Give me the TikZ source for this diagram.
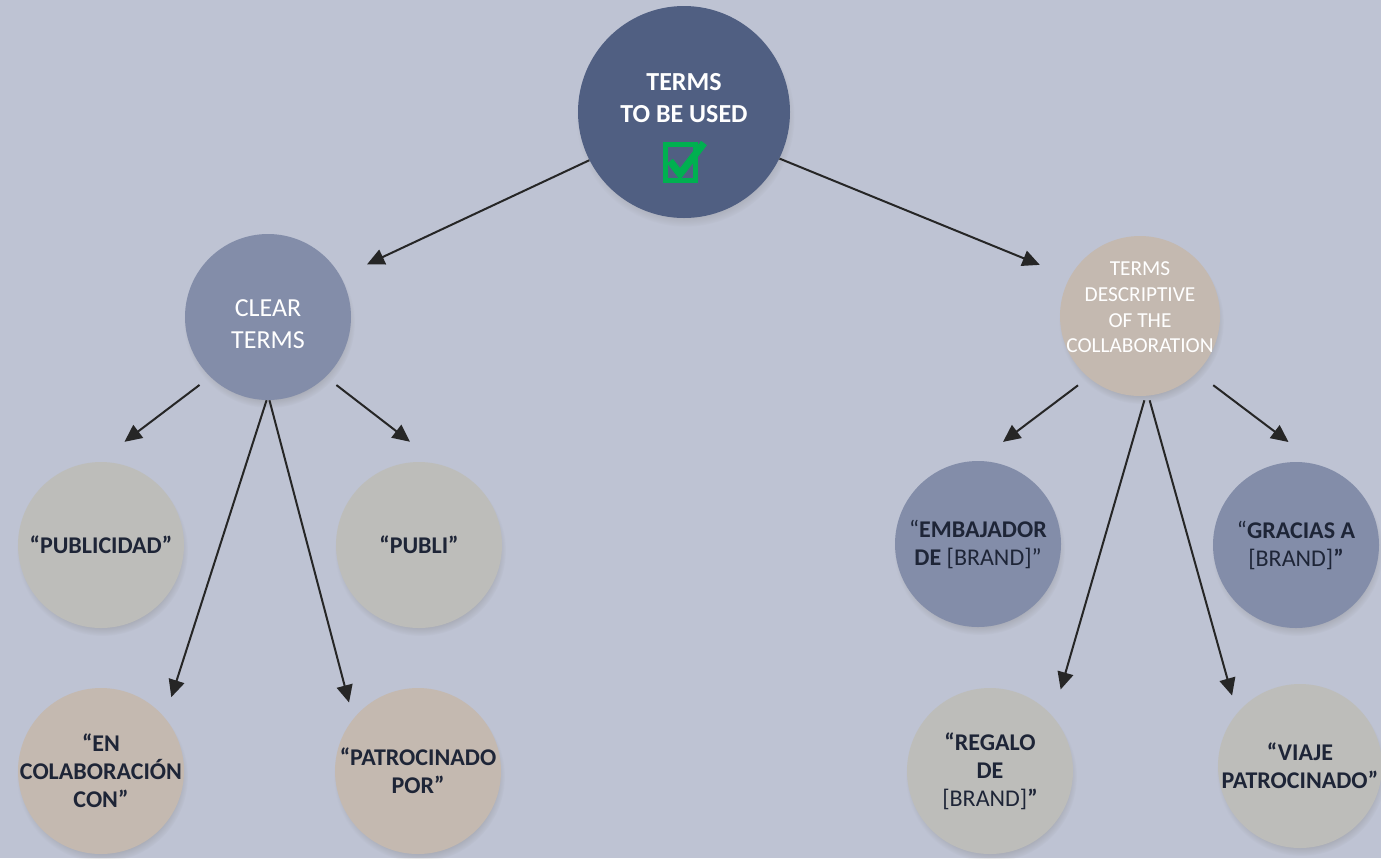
\documentclass[tikz,border=0pt]{standalone}
\usepackage{fontspec}
\setmainfont{Carlito}
\usetikzlibrary{shadows, arrows.meta}
\definecolor{bgcol}{HTML}{BEC3D3}
\definecolor{topblue}{HTML}{505F82}
\definecolor{midblue}{HTML}{838DA9}
\definecolor{beige}{HTML}{C4B9B0}
\definecolor{stone}{HTML}{BDBDBA}
\definecolor{inkblue}{HTML}{1E2537}
\definecolor{tickgreen}{HTML}{00B050}
\tikzstyle{bubble}=[circle, minimum size=124.5pt, inner sep=-20pt, align=center, text=inkblue, font=\fontsize{18}{21}\selectfont, circular drop shadow={shadow scale=1.03, shadow xshift=1pt, shadow yshift=-4pt, opacity=0.45}]
\tikzstyle{strong}=[bubble, font=\fontsize{18}{21}\selectfont\bfseries]
\tikzstyle{hub}=[bubble]
\tikzstyle{hubtext}=[text=white, align=center, font=\fontsize{19.5}{24}\selectfont]
\tikzstyle{arrowline}=[draw=black!85, line width=1.5pt, -{Triangle[length=13pt, width=12pt]}]

\begin{document}
\begin{tikzpicture}[x=0.75pt, y=-0.75pt]
	\useasboundingbox (0,0) rectangle (1381,858);
	\fill[bgcol] (0,0) rectangle (1381,858);

	% Top of the tree
	\node[hub, fill=topblue, minimum size=159pt,
		label={[hubtext, font=\fontsize{19.5}{24}\selectfont\bfseries, yshift=10.5pt]center:TERMS\\TO BE USED}] (top) at (684,112) {};
	\draw[tickgreen, line width=3.75pt] (665,144) rectangle (695,180);
	\draw[tickgreen, line width=5.5pt] (670,161) -- (680,174) -- (704,143);

	% Second level
	\node[hub, fill=midblue, label={[hubtext, yshift=-5pt]center:CLEAR\\TERMS}] (clear) at (268,317) {};
	\node[hub, fill=beige, minimum size=120pt,
		label={[hubtext, font=\fontsize{16}{19.3}\selectfont, yshift=6.5pt]center:TERMS\\DESCRIPTIVE\\OF THE\\COLLABORATION}] (desc) at (1140,316) {};

	% Clear terms
	\node[strong, fill=stone] (publicidad) at (101,545) {“PUBLICIDAD”};
	\node[strong, fill=stone] (publi) at (419,545) {“PUBLI”};
	\node[strong, fill=beige] (colab) at (101,771) {“EN\\COLABORACIÓN\\CON”};
	\node[strong, fill=beige] (patroc) at (418,771) {“PATROCINADO\\POR”};

	% Descriptive terms
	\node[bubble, fill=midblue] (embaj) at (978,544) {“\textbf{EMBAJADOR}\\\textbf{DE} [BRAND]”};
	\node[bubble, fill=midblue] (gracias) at (1296,545) {“\textbf{GRACIAS A}\\{}[BRAND]\textbf{”}};
	\node[bubble, fill=stone] (regalo) at (990,771) {\textbf{“REGALO}\\\textbf{DE}\\{}[BRAND]\textbf{”}};
	\node[strong, fill=stone, minimum size=123pt] (viaje) at (1300,766) {“VIAJE\\PATROCINADO”};

	\foreach \from/\fa/\to/\ta/\sa/\sb in {top/207/clear/29/0/21.7, top/334/desc/151/0/24.3,
		clear/226/publicidad/92/10/24.8, clear/269/colab/40/0/16, clear/271/patroc/141/0/12.5, clear/314/publi/76/10/27.6,
		desc/230/embaj/90/9.75/23.5, desc/274/regalo/41/3.3/21, desc/276/viaje/140/3.5/13.7, desc/315/gracias/74/15.5/28.6}{
		\draw[arrowline, shorten <=\sa pt, shorten >=\sb pt] (\from.\fa) -- (\to.\ta);
	}
\end{tikzpicture}
\end{document}
